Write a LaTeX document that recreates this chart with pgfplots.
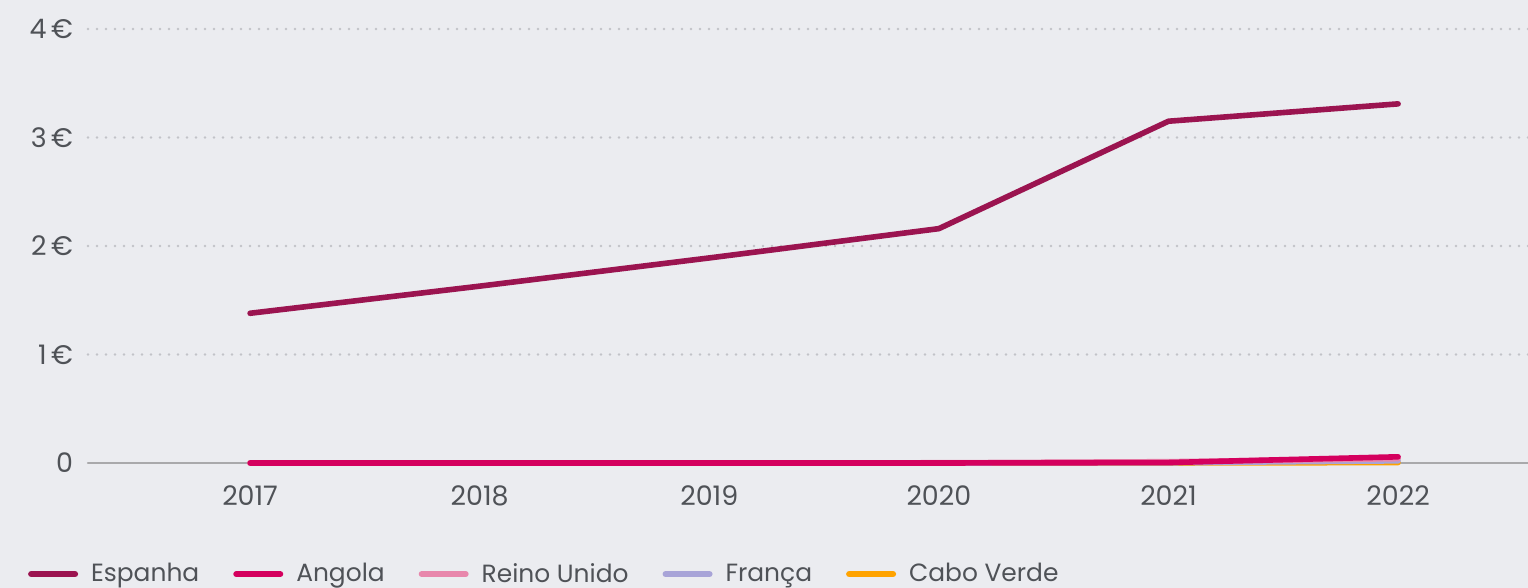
\documentclass[border=0pt]{standalone}
\usepackage{fontspec}
\setmainfont{Poppins}
\usepackage{pgfplots}
\pgfplotsset{compat=1.18}
\definecolor{bg}{HTML}{EBECF0}
\definecolor{txt}{HTML}{4F5257}
\definecolor{cEsp}{HTML}{9B1450}
\definecolor{cAng}{HTML}{D4005E}
\definecolor{cRU}{HTML}{E887AC}
\definecolor{cFr}{HTML}{A8A4D8}
\definecolor{cCV}{HTML}{FFA300}
\definecolor{gridc}{HTML}{C2C3C8}
\definecolor{basec}{HTML}{A9A9AB}
\begin{document}
\begin{tikzpicture}
\fill[bg] (0,0) rectangle (764bp,294bp);
\path[use as bounding box] (0,0) rectangle (764bp,294bp);
\begin{axis}[
  at={(44bp,62.5bp)}, anchor=origin,
  scale only axis, width=720bp, height=217bp,
  xmin=2016.294, xmax=2022.566, ymin=0, ymax=4,
  axis line style={draw=none}, clip=false,
  xtick={2017,2018,2019,2020,2021,2022},
  xticklabels={2017,2018,2019,2020,2021,2022},
  ytick={1,2,3,4},
  yticklabels={1\,€,2\,€,3\,€,4\,€},
  extra y ticks={0}, extra y tick labels={0},
  extra y tick style={grid style={solid, basec, line width=1.2bp, dash pattern=}},
  ymajorgrids,
  grid style={gridc, line width=1.4bp, line cap=round, dash pattern=on 0bp off 4.5bp},
  major tick length=0pt, tick style={draw=none},
  tick label style={font=\fontsize{13.5}{15}\selectfont, text=txt},
  yticklabel style={xshift=-4bp},
  xticklabel style={yshift=-8bp},
  legend columns=5,
  reverse legend,
  legend style={at={(-0.046,-0.256)}, anchor=west, draw=none, fill=none,
    font=\fontsize{12.5}{14}\selectfont, text=txt,
    /tikz/every odd column/.append style={column sep=4.5bp},
    /tikz/every even column/.append style={column sep=15bp}},
  legend image code/.code={\draw[#1, line cap=round, line width=3bp] (0bp,0bp) -- (22bp,0bp);},
  every axis plot/.append style={line width=2.8bp, line cap=round, line join=round},
]
\addplot[cCV] coordinates {(2017,0) (2018,0) (2019,0) (2020,0) (2021,0) (2022,0.004)};
\addlegendentry{Cabo Verde}
\addplot[cFr] coordinates {(2017,0) (2018,0) (2019,0) (2020,0) (2021,0.002) (2022,0.02)};
\addlegendentry{França}
\addplot[cRU] coordinates {(2017,0) (2018,0) (2019,0) (2020,0.002) (2021,0.012) (2022,0.04)};
\addlegendentry{Reino Unido}
\addplot[cAng] coordinates {(2017,0) (2018,0) (2019,0) (2020,0) (2021,0.004) (2022,0.057)};
\addlegendentry{Angola}
\addplot[cEsp] coordinates {(2017,1.38) (2018,1.63) (2019,1.89) (2020,2.16) (2021,3.15) (2022,3.31)};
\addlegendentry{Espanha}
\end{axis}
\end{tikzpicture}
\end{document}
